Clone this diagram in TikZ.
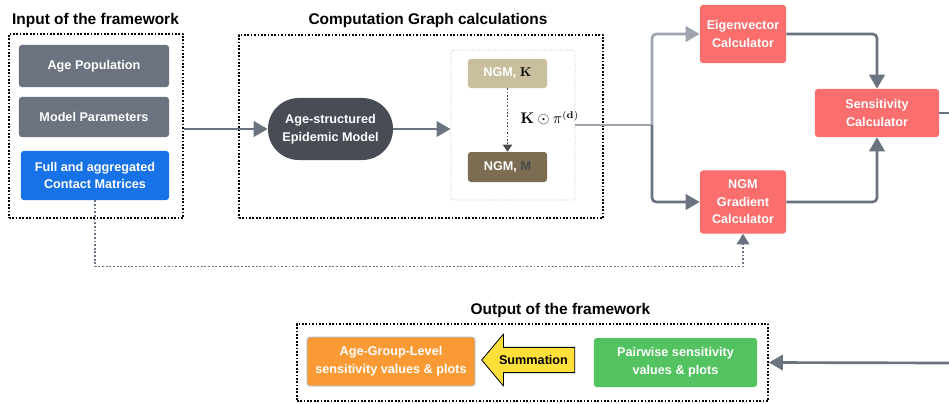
\documentclass[tikz,border=0pt]{standalone}
\usepackage[no-math]{fontspec}
\setmainfont{Liberation Sans}
\usetikzlibrary{arrows.meta,shapes.arrows,positioning}

\definecolor{boxgray}{HTML}{6B7280}
\definecolor{contactblue}{HTML}{1672E6}
\definecolor{modeldark}{HTML}{474C55}
\definecolor{ngmtan}{HTML}{C9BF9F}
\definecolor{ngmbrown}{HTML}{7C6C52}
\definecolor{mgray}{HTML}{4A4A4A}
\definecolor{calcred}{HTML}{FA6E6E}
\definecolor{linegray}{HTML}{6B7280}
\definecolor{lightline}{HTML}{9EA4AD}
\definecolor{outorange}{HTML}{F99A35}
\definecolor{outborder}{HTML}{A9C9EE}
\definecolor{outgreen}{HTML}{52C360}
\definecolor{sumyellow}{HTML}{FFE03B}

\tikzset{
	box/.style={rounded corners=2pt,text=white,align=center,inner sep=0pt,
		font=\bfseries\fontsize{9}{12.5}\selectfont},
	graybox/.style={box,fill=boxgray,minimum width=3.75cm},
	calcbox/.style={box,fill=calcred,minimum width=2.15cm},
	frame/.style={draw,line width=1.2pt,dash pattern=on 1.2pt off 1.2pt},
	title/.style={font=\bfseries\fontsize{11}{13}\selectfont},
	conn/.style={draw=linegray,line width=1.9pt,rounded corners=3pt,
		-{Triangle[length=10pt,width=11pt]}},
	connlight/.style={conn,draw=lightline},
	feedback/.style={draw=linegray,line width=1.1pt,dash pattern=on 1.3pt off 1.3pt,
		-{Triangle[length=7.5pt,width=9pt]}},
}

\begin{document}
\begin{tikzpicture}[x=0.025cm,y=-0.025cm,line join=round]
	\useasboundingbox (0,0) rectangle (949,403);
	
	% input of the framework
	\node[title] (intitle) at (95.5,20) {Input of the framework};
	\node[frame,minimum width=4.35cm,minimum height=4.6cm] (inframe) at (96,126) {};
	\node[graybox,minimum height=1.05cm] (agepop) at (94,66) {Age Population};
	\node[graybox,minimum height=1cm] (modpar) at (94,117) {Model Parameters};
	\node[box,fill=contactblue,minimum width=3.7cm,minimum height=1.225cm] (contact) at (95,175.5) {Full and aggregated\\Contact Matrices};
	
	% computation graph
	\node[title] (comptitle) at (428,20) {Computation Graph calculations};
	\node[frame,minimum width=9.1cm,minimum height=4.575cm] (compframe) at (421,126.5) {};
	\node[box,fill=modeldark,rounded corners=0.77cm,minimum width=3.125cm,minimum height=1.55cm] (model) at (330.5,129) {Age-structured\\Epidemic Model};
	\node[draw=gray!55,densely dotted,line width=.6pt,rounded corners=2pt,minimum width=3.1cm,minimum height=3.75cm] (ngmframe) at (513,125) {};
	\node[box,fill=ngmtan,minimum width=1.975cm,minimum height=0.725cm] (ngmk) at (507.5,73.5) {NGM, \textcolor{black}{$\mathbf{K}$}};
	\node[box,fill=ngmbrown,minimum width=1.975cm,minimum height=0.75cm] (ngmm) at (507.5,167) {NGM, \textcolor{mgray}{M}};
	\node[anchor=west,inner sep=0pt,font=\fontsize{10.5}{12}\selectfont] (kpi) at (520,118) {$\mathbf{K}\odot\pi^{(\mathbf{d})}$};
	
	% calculators
	\coordinate (split) at (652,125);
	\node[calcbox,minimum height=1.45cm] (eigen) at (743,34) {Eigenvector\\Calculator};
	\node[calcbox,minimum height=1.575cm] (grad) at (743,202) {NGM\\Gradient\\Calculator};
	\node[box,fill=calcred,minimum width=3.1cm,minimum height=1.2cm] (sens) at (877,113) {Sensitivity\\Calculator};
	\coordinate (sensout) at (949,113);
	\coordinate (outin) at (949,363);
	
	% output of the framework
	\node[title] (outtitle) at (560.5,310) {Output of the framework};
	\node[frame,minimum width=11.775cm,minimum height=1.925cm] (outframe) at (532.5,362.5) {};
	\node[box,fill=outorange,draw=outborder,line width=.6pt,minimum width=4.2cm,minimum height=1.225cm] (agegroup) at (391,361.5) {Age-Group-Level\\sensitivity values \& plots};
	\node[single arrow,shape border rotate=180,fill=sumyellow,draw=black,line width=.6pt,
		minimum height=2.325cm,minimum width=1.3cm,single arrow head extend=0.32cm,
		single arrow tip angle=100,inner xsep=2pt,inner ysep=5pt,
		font=\bfseries\fontsize{9}{11}\selectfont] (summ) at (533.5,360) {Summation};
	\node[box,fill=outgreen,minimum width=4.075cm,minimum height=1.225cm] (pairwise) at (675.5,362.5) {Pairwise sensitivity\\values \& plots};
	
	% connectors
	\draw[conn] (inframe.east |- model.west) -- (model.west);
	\draw[conn] (model.east) -- (ngmframe.west |- model.east);
	\draw[draw=lightline,line width=1.9pt] (ngmframe.east) -- (split);
	\draw[connlight] (split) |- (eigen.west);
	\draw[conn] (split) |- (grad.west);
	\draw[conn] (eigen.east) -| (sens.north);
	\draw[conn] (grad.east) -| (sens.south);
	\draw[draw=linegray,line width=1.9pt] (sens.east) -- (sensout);
	\draw[conn] (outin) -- (outframe.east);
	\draw[draw=mgray,line width=1.2pt,dash pattern=on 1.2pt off 1.2pt,-{Triangle[length=5pt,width=6.5pt]}] (ngmk) -- (ngmm);
	\draw[feedback] (contact.south) -- ++(0,66) -| (grad.south);
\end{tikzpicture}
\end{document}
